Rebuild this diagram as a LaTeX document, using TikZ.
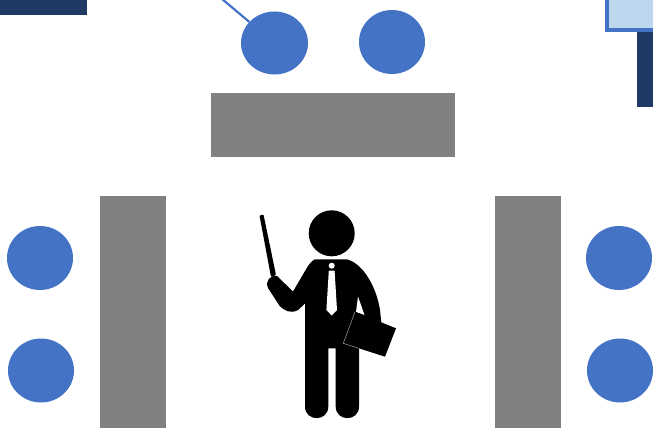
\documentclass[tikz,border=0pt]{standalone}
\usepackage{xcolor}
\usetikzlibrary{shapes.geometric}
\definecolor{seatblue}{HTML}{4472C4}
\definecolor{tablegray}{HTML}{808080}
\definecolor{barnavy}{HTML}{1F3864}
\definecolor{boxlight}{HTML}{BDD7EE}
\tikzset{
  seat/.style={ellipse, fill=seatblue, minimum width=66pt, minimum height=64pt, inner sep=0pt},
  tablebox/.style={rectangle, fill=tablegray, inner sep=0pt},
  barbox/.style={rectangle, fill=barnavy, inner sep=0pt},
  leader/.style={draw=seatblue, line width=2.2pt},
}

\begin{document}
\begin{tikzpicture}[x=1pt, y=-1pt]
  \useasboundingbox (0,0) rectangle (653,428);
  \clip (0,0) rectangle (653,428);
  % bars cut off by the edge
  \node[barbox, minimum width=87pt, minimum height=15pt] (barleft) at (43.5,7.5) {};
  \node[barbox, minimum width=24pt, minimum height=110pt] (barright) at (648.5,51.5) {};
  \node[rectangle, draw=seatblue, line width=4pt, fill=boxlight, minimum width=60pt, minimum height=50pt, inner sep=0pt] (boxright) at (637,5) {};
  % tables
  \node[tablebox, minimum width=244pt, minimum height=64pt] (tabletop) at (333,125) {};
  \node[tablebox, minimum width=66pt, minimum height=232pt] (tableleft) at (133,312) {};
  \node[tablebox, minimum width=66pt, minimum height=232pt] (tableright) at (528,312) {};
  % seats
  \node[seat, minimum width=67pt, minimum height=63pt] (seattopa) at (274.5,43) {};
  \node[seat] (seattopb) at (392,42) {};
  \node[seat] (seatlefta) at (40,258) {};
  \node[seat] (seatleftb) at (41,370.5) {};
  \node[seat] (seatrighta) at (619,258) {};
  \node[seat] (seatrightb) at (620,370.5) {};
  \coordinate (leaderend) at (222,-1);
  \draw[leader] (leaderend) -- (seattopa);
  % presenter
  \fill[black] (331.7,233.3) circle (23);
  \fill[black, rounded corners=1pt] (259.5,215.5) -- (263.5,214.5) -- (276,275) -- (271,277) -- cycle;
  \fill[black] (315,259.3) -- (346.7,259.3)
    .. controls (362,263) and (376,285) .. (380,310)
    -- (382,330) -- (359,340) -- (359,406.5)
    .. controls (359,422) and (335.7,422) .. (335.7,406.5)
    -- (335.7,348.3) -- (328.3,348.3) -- (328.3,406.5)
    .. controls (328.3,422) and (305,422) .. (305,406.5)
    -- (305,303.5) -- (298,310)
    .. controls (291,314) and (284,311) .. (279,305)
    -- (268,288) .. controls (265,281) and (270,275) .. (277,276)
    -- (293,291.5) -- (308,266) .. controls (311,262) and (313,260) .. (315,259.3) -- cycle;
  % tie
  \fill[white] (331.7,265.7) circle (3);
  \fill[white] (328.8,270.7) -- (334.6,270.7) -- (337,310) -- (331.7,315.5) -- (326.4,310) -- cycle;
  % folder
  \fill[white] (358,296.5) -- (364.5,315) -- (356,312) -- cycle;
  \fill[black] (355,311.7) -- (396,328.3) -- (385,356.7) -- (343.3,343.3) -- cycle;
  \draw[black!45, line width=0.6pt] (355,311.7) -- (343.3,343.3) -- (359,348.4);
\end{tikzpicture}
\end{document}
